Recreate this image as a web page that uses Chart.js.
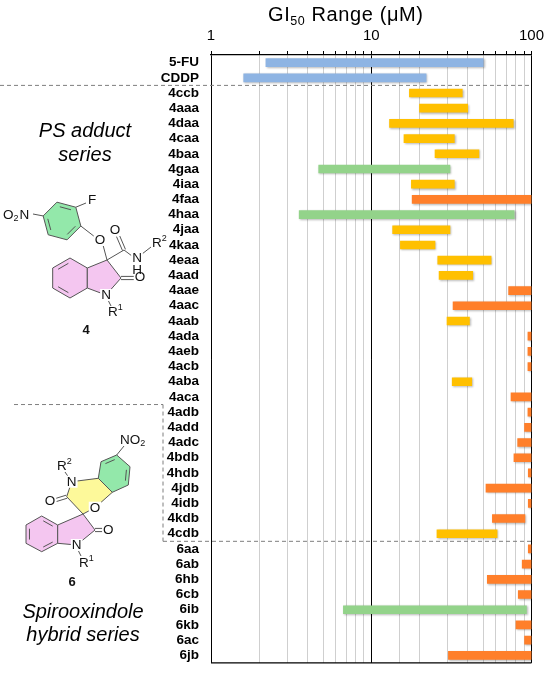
<!DOCTYPE html>
<html>
<head>
<meta charset="utf-8">
<script src="https://cdn.jsdelivr.net/npm/chart.js"></script>
<style>
  html, body { margin: 0; padding: 0; background: #fff; }
  #wrap { width: 550px; height: 683px; }
</style>
</head>
<body>
<div id="wrap"><canvas id="myChart"></canvas></div>
<script>
// compounds, top to bottom
var compounds = ['5-FU', 'CDDP', '4ccb', '4aaa', '4daa', '4caa', '4baa', '4gaa', '4iaa', '4faa',
  '4haa', '4jaa', '4kaa', '4eaa', '4aad', '4aae', '4aac', '4aab', '4ada', '4aeb',
  '4acb', '4aba', '4aca', '4adb', '4add', '4adc', '4bdb', '4hdb', '4jdb', '4idb',
  '4kdb', '4cdb', '6aa', '6ab', '6hb', '6cb', '6ib', '6kb', '6ac', '6jb'];

// GI50 range, lower and upper end (uM)
var giLow = [2.2, 1.6, 17.3, 20, 13, 16, 25, 4.7, 17.8, 18,
  3.55, 13.6, 15.2, 26, 26.5, 72, 32.4, 29.7, 95, 95,
  95, 32, 74.5, 95, 90.5, 82, 77.7, 95.5, 52, 95.5,
  57, 25.7, 95.5, 87.5, 53, 82.7, 6.7, 80, 90.5, 30.3];
var giHigh = [50, 22, 37, 40, 77, 33, 47, 31, 33, 100,
  78, 31, 25, 56, 43, 100, 100, 41, 100, 100,
  100, 42.4, 100, 100, 100, 100, 100, 100, 100, 100,
  91, 61, 100, 100, 100, 100, 93, 100, 100, 100];

// colour group of each bar
var barGroup = ['ref', 'ref', 'mid', 'mid', 'mid', 'mid', 'mid', 'wide', 'mid', 'high',
  'wide', 'mid', 'mid', 'mid', 'mid', 'high', 'high', 'mid', 'high', 'high',
  'high', 'mid', 'high', 'high', 'high', 'high', 'high', 'high', 'high', 'high',
  'high', 'mid', 'high', 'high', 'high', 'high', 'wide', 'high', 'high', 'high'];

var xTickLabels = [1, 10, 100];

var groupColors = { ref: '#8eb4e3', mid: '#ffc000', wide: '#93d38a', high: '#ff7f2a' };
var FONT = '"Liberation Sans", Arial, sans-serif';

// ---- helpers for the structure drawings ----
function hex(cx, cy, s, start) {
  var pts = [];
  for (var k = 0; k < 6; k++) {
    var a = (start + 60 * k) * Math.PI / 180;
    pts.push([cx + s * Math.cos(a), cy + s * Math.sin(a)]);
  }
  return pts;
}
function ring(ctx, pts, fill) {
  ctx.beginPath();
  ctx.moveTo(pts[0][0], pts[0][1]);
  for (var i = 1; i < pts.length; i++) ctx.lineTo(pts[i][0], pts[i][1]);
  ctx.closePath();
  ctx.fillStyle = fill;
  ctx.fill();
  ctx.stroke();
}
function inner(ctx, pts, idx) {
  // inner double-bond lines of a ring
  var cx = 0, cy = 0;
  pts.forEach(function (p) { cx += p[0]; cy += p[1]; });
  cx /= pts.length; cy /= pts.length;
  idx.forEach(function (i) {
    var a = pts[i], b = pts[(i + 1) % pts.length];
    var f = 0.78;
    var a2 = [cx + (a[0] - cx) * f, cy + (a[1] - cy) * f];
    var b2 = [cx + (b[0] - cx) * f, cy + (b[1] - cy) * f];
    var t = 0.12;
    line(ctx, [a2[0] + (b2[0] - a2[0]) * t, a2[1] + (b2[1] - a2[1]) * t],
      [b2[0] - (b2[0] - a2[0]) * t, b2[1] - (b2[1] - a2[1]) * t]);
  });
}
function line(ctx, a, b) {
  ctx.beginPath();
  ctx.moveTo(a[0], a[1]);
  ctx.lineTo(b[0], b[1]);
  ctx.stroke();
}
function dbl(ctx, a, b) {
  var dx = b[0] - a[0], dy = b[1] - a[1], L = Math.hypot(dx, dy);
  var nx = -dy / L * 1.6, ny = dx / L * 1.6;
  line(ctx, [a[0] + nx, a[1] + ny], [b[0] + nx, b[1] + ny]);
  line(ctx, [a[0] - nx, a[1] - ny], [b[0] - nx, b[1] - ny]);
}
function atom(ctx, txt, x, y, bg) {
  ctx.font = '13.5px ' + FONT;
  var w = ctx.measureText(txt).width;
  if (bg) {
    ctx.fillStyle = '#fff';
    ctx.fillRect(x - w / 2 - 1, y - 6, w + 2, 12);
  }
  ctx.fillStyle = '#111';
  ctx.textAlign = 'center';
  ctx.textBaseline = 'middle';
  ctx.fillText(txt, x, y + 0.5);
}
function script(ctx, base, small, x, y, up) {
  ctx.font = '13.5px ' + FONT;
  ctx.fillStyle = '#111';
  ctx.textBaseline = 'middle';
  ctx.textAlign = 'left';
  var w = ctx.measureText(base).width;
  ctx.fillText(base, x, y + 0.5);
  ctx.font = '9px ' + FONT;
  ctx.fillText(small, x + w, y + (up ? -4 : 4));
}

function drawStructure4(ctx) {
  ctx.strokeStyle = '#555';
  ctx.lineWidth = 1;
  var g = hex(62, 221, 19.5, -105);
  ring(ctx, g, '#93e8aa');
  inner(ctx, g, [0, 2, 4]);
  line(ctx, g[1], [86, 203]);
  line(ctx, g[5], [33, 214]);
  line(ctx, g[2], [95, 237]);
  var b = hex(70, 278, 20, -90);
  ring(ctx, b, '#f4c6f0');
  inner(ctx, b, [3, 5]);
  var p = [[87.3, 268], [107, 260], [121, 278], [106, 295], [87.3, 288]];
  ring(ctx, p, '#f4c6f0');
  line(ctx, [103, 245], p[1]);
  dbl(ctx, p[2], [134, 278]);
  line(ctx, [108, 300], [111, 306]);
  line(ctx, p[1], [124, 250]);
  dbl(ctx, [124, 250], [118, 236]);
  line(ctx, [124, 250], [132, 256]);
  line(ctx, [142, 254], [151, 247]);
  atom(ctx, 'F', 92, 200, false);
  atom(ctx, 'O', 100, 240, true);
  atom(ctx, 'O', 115, 230, true);
  atom(ctx, 'O', 140, 277, true);
  atom(ctx, 'N', 106, 295, true);
  atom(ctx, 'N', 137, 258, true);
  atom(ctx, 'H', 137, 270, false);
  script(ctx, 'R', '2', 152, 243, true);
  script(ctx, 'R', '1', 108, 312, true);
  // O2N
  ctx.font = '13.5px ' + FONT;
  ctx.fillStyle = '#111';
  ctx.textBaseline = 'middle';
  ctx.textAlign = 'left';
  ctx.fillText('O', 3, 215);
  ctx.font = '9px ' + FONT;
  ctx.fillText('2', 13.5, 219);
  ctx.font = '13.5px ' + FONT;
  ctx.fillText('N', 19.5, 215);
  ctx.font = 'bold 13px ' + FONT;
  ctx.textAlign = 'center';
  ctx.fillText('4', 86, 330);
}

function drawStructure6(ctx) {
  ctx.strokeStyle = '#555';
  ctx.lineWidth = 1;
  var g = [[101, 461.7], [116.7, 455], [130, 466.7], [128.3, 485], [112.3, 492.3], [98.3, 478.3]];
  ring(ctx, g, '#93e8aa');
  inner(ctx, g, [0, 2]);
  var y = [[71.7, 481.7], [98.3, 478.3], [112.3, 492.3], [95, 507.7], [83, 514], [66.7, 496.7]];
  ring(ctx, y, '#fdf99a');
  var b = [[26, 525], [41.7, 516], [57.7, 525], [57.7, 543.3], [41.7, 551.7], [26, 543.3]];
  ring(ctx, b, '#f4c6f0');
  inner(ctx, b, [1, 3, 5]);
  var p = [[57.7, 525], [83, 514], [95, 530], [76.7, 545], [57.7, 543.3]];
  ring(ctx, p, '#f4c6f0');
  dbl(ctx, y[5], [56, 500]);
  dbl(ctx, p[2], [103, 530]);
  line(ctx, y[0], [65, 472]);
  line(ctx, g[1], [124, 446]);
  line(ctx, [78, 550], [81, 556]);
  atom(ctx, 'N', 71.7, 481.7, true);
  atom(ctx, 'O', 95, 507.7, true);
  atom(ctx, 'O', 50, 501, true);
  atom(ctx, 'O', 108.3, 530, true);
  atom(ctx, 'N', 76.7, 545, true);
  script(ctx, 'R', '2', 57, 466, true);
  script(ctx, 'R', '1', 79, 563, true);
  script(ctx, 'NO', '2', 120, 440, false);
  ctx.font = 'bold 13px ' + FONT;
  ctx.fillStyle = '#111';
  ctx.textAlign = 'center';
  ctx.fillText('6', 72, 582);
}

var decor = {
  id: 'decor',
  beforeDatasetsDraw: function (chart) {
    chart.ctx.save();
    chart.ctx.shadowColor = 'rgba(0,0,0,0.28)';
    chart.ctx.shadowBlur = 2;
    chart.ctx.shadowOffsetX = 1;
    chart.ctx.shadowOffsetY = 1;
  },
  afterDatasetsDraw: function (chart) {
    chart.ctx.restore();
  },
  afterDraw: function (chart) {
    var ctx = chart.ctx, area = chart.chartArea, ys = chart.scales.y;
    function between(name) {
      var i = compounds.indexOf(name);
      return (ys.getPixelForValue(i) + ys.getPixelForValue(i + 1)) / 2;
    }
    ctx.save();
    // frame
    ctx.strokeStyle = '#000';
    ctx.lineWidth = 1.3;
    line(ctx, [area.left, area.bottom], [area.right, area.bottom]);
    // dashed separators
    ctx.strokeStyle = '#7f7f7f';
    ctx.lineWidth = 1;
    ctx.setLineDash([4, 3]);
    var y1 = between('CDDP'), y2 = between('4aca'), y3 = between('4cdb');
    line(ctx, [0, y1], [area.right, y1]);
    line(ctx, [14, y2], [163, y2]);
    line(ctx, [163, y2], [163, y3]);
    line(ctx, [163, y3], [area.right, y3]);
    ctx.setLineDash([]);
    // title with subscript
    ctx.fillStyle = '#000';
    ctx.textBaseline = 'alphabetic';
    ctx.textAlign = 'left';
    ctx.letterSpacing = '0.6px';
    var big = '20px ' + FONT, sm = '12.5px ' + FONT;
    ctx.font = big; var w1 = ctx.measureText('GI').width;
    ctx.font = sm; var w2 = ctx.measureText('50').width;
    var x0 = 268;
    ctx.font = big; ctx.fillText('GI', x0, 21);
    ctx.font = sm; ctx.fillText('50', x0 + w1, 25);
    ctx.font = big; ctx.fillText(' Range (\u03bcM)', x0 + w1 + w2, 21);
    ctx.letterSpacing = '0px';
    // series captions
    ctx.font = 'italic 20px ' + FONT;
    ctx.textAlign = 'center';
    ctx.textBaseline = 'middle';
    ctx.fillText('PS adduct', 85, 131);
    ctx.fillText('series', 85, 155);
    ctx.fillText('Spirooxindole', 83, 612);
    ctx.fillText('hybrid series', 83, 635);
    drawStructure4(ctx);
    drawStructure6(ctx);
    ctx.restore();
  }
};

var ctx = document.getElementById('myChart');
new Chart(ctx, {
  type: 'bar',
  data: {
    labels: compounds,
    datasets: [{
      data: compounds.map(function (c, i) { return [giLow[i], giHigh[i]]; }),
      backgroundColor: barGroup.map(function (g) { return groupColors[g]; }),
      borderWidth: 0,
      borderSkipped: false,
      barThickness: 8
    }]
  },
  options: {
    indexAxis: 'y',
    responsive: true,
    maintainAspectRatio: false,
    animation: false,
    layout: { padding: { left: 0, right: 17, top: 0, bottom: 9.5 } },
    plugins: { legend: { display: false }, tooltip: { enabled: false } },
    scales: {
      x: {
        type: 'logarithmic',
        position: 'top',
        min: 1,
        max: 100,
        afterFit: function (scale) { scale.height = 55; },
        border: { display: true, color: '#000', width: 1.3 },
        grid: {
          color: function (c) {
            var v = c.tick && c.tick.value;
            return (v === 1 || v === 10 || v === 100) ? '#000' : '#cfcfcf';
          },
          lineWidth: 1,
          tickColor: '#000',
          tickLength: 4
        },
        ticks: {
          autoSkip: false,
          maxRotation: 0,
          padding: 6,
          color: '#000',
          font: { family: FONT, size: 15 },
          callback: function (v) { return xTickLabels.indexOf(v) >= 0 ? String(v) : ''; }
        }
      },
      y: {
        afterFit: function (scale) { scale.width = 211; },
        grid: { display: false, drawTicks: false },
        border: { display: false },
        ticks: {
          autoSkip: false,
          padding: 12,
          color: '#000',
          font: { family: FONT, size: 13.5, weight: 'bold' }
        }
      }
    }
  },
  plugins: [decor]
});
</script>
</body>
</html>
